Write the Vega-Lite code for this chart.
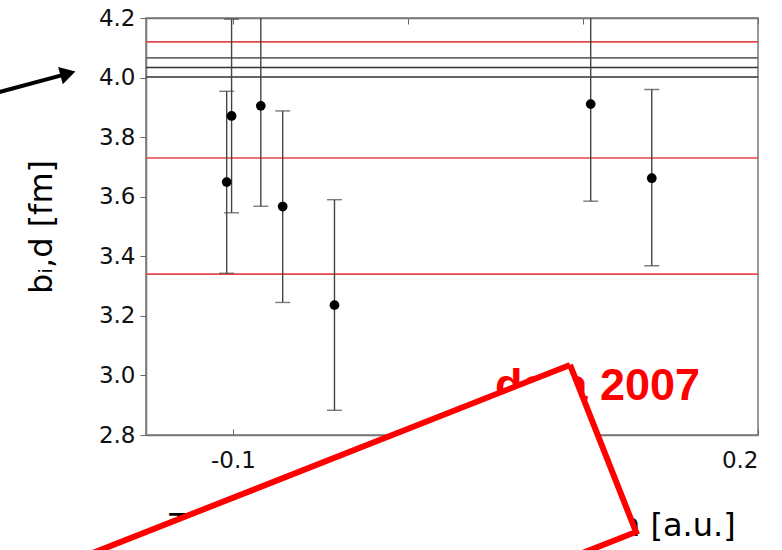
{
  "$schema": "https://vega.github.io/schema/vega-lite/v6.json",
  "autosize": {"type": "none"},
  "padding": {"left": 146, "top": 18, "right": 24, "bottom": 115},
  "width": 612,
  "height": 417,
  "background": "white",
  "config": {
    "view": {"stroke": "#777", "strokeWidth": 1.5},
    "axis": {"grid": false}
  },
  "datasets": {
    "pts": [
      {"x": -0.1036, "y": 3.649, "lo": 3.343, "hi": 3.954},
      {"x": -0.1008, "y": 3.871, "lo": 3.546, "hi": 4.196},
      {"x": -0.0841, "y": 3.905, "lo": 3.568, "hi": 4.242},
      {"x": -0.0716, "y": 3.567, "lo": 3.245, "hi": 3.888},
      {"x": -0.042, "y": 3.236, "lo": 2.883, "hi": 3.59},
      {"x": 0.1044, "y": 3.911, "lo": 3.585, "hi": 4.237},
      {"x": 0.1393, "y": 3.662, "lo": 3.368, "hi": 3.96}
    ],
    "hlines": [
      {"y": 4.12, "kind": "red"},
      {"y": 3.73, "kind": "red"},
      {"y": 3.34, "kind": "red"},
      {"y": 4.066, "kind": "gray"},
      {"y": 4.034, "kind": "black"},
      {"y": 4.002, "kind": "black"}
    ],
    "rect": [
      {"x": 0.0926, "y": 3.0352, "o": 1},
      {"x": 0.1303, "y": 2.4746, "o": 2},
      {"x": -0.1783, "y": 1.7602, "o": 3},
      {"x": -0.216, "y": 2.3208, "o": 4},
      {"x": 0.0926, "y": 3.0352, "o": 5}
    ],
    "arrow": [
      {"x": -0.2392, "y": 3.9426, "x2": -0.1943, "y2": 4.0134}
    ],
    "head": [
      {"x": -0.1943, "y": 4.0134}
    ],
    "note": [
      {"x": 0.0497, "y": 2.9177, "label": "data 2007"}
    ]
  },
  "resolve": {"axis": {"x": "independent", "y": "independent"}},
  "layer": [
    {
      "data": {"name": "hlines"},
      "mark": {"type": "rule", "strokeWidth": 1.6},
      "encoding": {
        "y": {"field": "y", "type": "quantitative", "scale": {"domain": [2.8, 4.2], "zero": false, "nice": false},
          "axis": {
            "values": [2.8, 3.0, 3.2, 3.4, 3.6, 3.8, 4.0, 4.2],
            "format": ".1f",
            "labelFont": "DejaVu Sans",
            "labelFontSize": 23,
            "labelColor": "#111",
            "labelPadding": 5,
            "tickSize": 6,
            "tickColor": "#666",
            "domainColor": "#777",
            "domainWidth": 1.5,
            "title": "bᵢ,d [fm]",
            "titleFont": "DejaVu Sans",
            "titleFontSize": 32,
            "titleFontWeight": "normal",
            "titleColor": "#000",
            "titlePadding": 40
          }},
        "color": {"field": "kind", "type": "nominal", "legend": null,
          "scale": {"domain": ["red", "gray", "black"], "range": ["#e5484a", "#6a6a6a", "#333333"]}}
      }
    },
    {
      "data": {"name": "pts"},
      "mark": {"type": "rule", "color": "#444", "strokeWidth": 1.4, "clip": true},
      "encoding": {
        "x": {"field": "x", "type": "quantitative", "scale": {"domain": [-0.1497, 0.2], "zero": false, "nice": false},
          "axis": {"orient": "top", "values": [-0.1, 0, 0.1, 0.2], "labels": false, "tickSize": -6, "tickColor": "#666", "domainColor": "#777", "domainWidth": 1.5, "title": null}},
        "y": {"field": "lo", "type": "quantitative", "axis": null},
        "y2": {"field": "hi"}
      }
    },
    {
      "data": {"name": "pts"},
      "mark": {"type": "tick", "orient": "horizontal", "color": "#444", "thickness": 1.4, "size": 15, "clip": true},
      "encoding": {
        "x": {"field": "x", "type": "quantitative", "axis": null},
        "y": {"field": "lo", "type": "quantitative", "axis": null}
      }
    },
    {
      "data": {"name": "pts"},
      "mark": {"type": "tick", "orient": "horizontal", "color": "#444", "thickness": 1.4, "size": 15, "clip": true},
      "encoding": {
        "x": {"field": "x", "type": "quantitative", "axis": null},
        "y": {"field": "hi", "type": "quantitative", "axis": null}
      }
    },
    {
      "data": {"name": "pts"},
      "mark": {"type": "point", "filled": true, "color": "#000", "opacity": 1, "size": 95},
      "encoding": {
        "x": {"field": "x", "type": "quantitative",
          "axis": {
            "values": [-0.1, 0, 0.1, 0.2],
            "labelExpr": "replace(format(datum.value, '.1f'), '−', '-')",
            "labelFont": "DejaVu Sans",
            "labelFontSize": 23,
            "labelColor": "#111",
            "labelPadding": 20,
            "tickSize": -6,
            "tickColor": "#666",
            "domainColor": "#777",
            "domainWidth": 1.5,
            "title": "Time sequence of publication [a.u.]",
            "titleFont": "DejaVu Sans",
            "titleFontSize": 32,
            "titleFontWeight": "normal",
            "titleColor": "#000",
            "titlePadding": 38
          }},
        "y": {"field": "y", "type": "quantitative", "axis": null}
      }
    },
    {
      "data": {"name": "note"},
      "mark": {"type": "text", "align": "left", "baseline": "alphabetic", "font": "Liberation Sans", "fontWeight": "bold", "fontSize": 45, "color": "#ff0000", "clip": false},
      "encoding": {
        "x": {"field": "x", "type": "quantitative", "axis": null},
        "y": {"field": "y", "type": "quantitative", "axis": null},
        "text": {"field": "label"}
      }
    },
    {
      "data": {"name": "arrow"},
      "mark": {"type": "rule", "color": "#000", "strokeWidth": 4, "clip": false},
      "encoding": {
        "x": {"field": "x", "type": "quantitative", "axis": null},
        "y": {"field": "y", "type": "quantitative", "axis": null},
        "x2": {"field": "x2"},
        "y2": {"field": "y2"}
      }
    },
    {
      "data": {"name": "head"},
      "mark": {"type": "point", "shape": "triangle-right", "filled": true, "color": "#000", "opacity": 1, "size": 320, "angle": -15, "clip": false},
      "encoding": {
        "x": {"field": "x", "type": "quantitative", "axis": null},
        "y": {"field": "y", "type": "quantitative", "axis": null}
      }
    },
    {
      "data": {"name": "rect"},
      "mark": {"type": "line", "stroke": "#ff0000", "fill": "white", "strokeWidth": 6, "strokeJoin": "miter", "clip": false},
      "encoding": {
        "x": {"field": "x", "type": "quantitative", "axis": null},
        "y": {"field": "y", "type": "quantitative", "axis": null},
        "order": {"field": "o", "type": "quantitative"}
      }
    }
  ]
}
